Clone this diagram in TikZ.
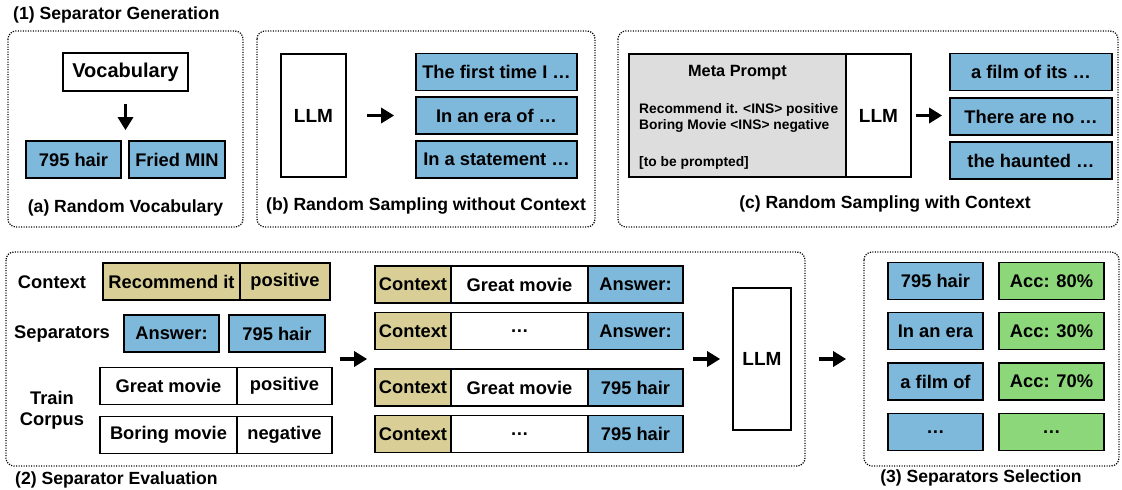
\documentclass[tikz,border=0pt]{standalone}
\usepackage{fontspec}
\setmainfont{Liberation Sans}
\usetikzlibrary{arrows.meta}
\definecolor{sepblue}{RGB}{126,184,219}
\definecolor{ctxtan}{RGB}{217,207,150}
\definecolor{accgreen}{RGB}{140,215,122}
\definecolor{metagray}{RGB}{221,221,221}
\begin{document}
\begin{tikzpicture}[x=1pt, y=-1pt,
  every node/.style={font=\fontsize{18.3}{21}\selectfont\bfseries},
  box/.style={draw, line width=1.7pt, inner sep=0pt, minimum height=37pt},
  sepbox/.style={box, fill=sepblue},
  ctxbox/.style={box, fill=ctxtan},
  accbox/.style={box, fill=accgreen},
  llmbox/.style={box, fill=white, font=\fontsize{19}{22}\selectfont\bfseries},
  panel/.style={draw, line width=1.2pt, dash pattern=on 1.2pt off 1.3pt, rounded corners=8pt},
  caption/.style={font=\fontsize{17.6}{20}\selectfont\bfseries},
  meta/.style={font=\fontsize{13.8}{16}\selectfont\bfseries, anchor=west, inner sep=0pt},
  arr/.style={-{Triangle[length=13pt,width=15pt]}, line width=3.4pt},
]
\useasboundingbox (0,0) rectangle (1122,490);
\node[caption, anchor=west, inner sep=0pt] (genT) at (13,15) {(1) Separator Generation};
% (a)
\draw[panel] (8,31) rectangle (243,227);
\node[box, minimum width=125pt, minimum height=38pt, font=\fontsize{20}{22}\selectfont\bfseries] (voc) at (125.5,72) {Vocabulary};
\node[sepbox, minimum width=95pt] (vocA) at (73.5,159.5) {795 hair};
\node[sepbox, minimum width=96pt] (vocB) at (177,159.5) {Fried MIN};
\draw[arr, shorten <=12pt, shorten >=10pt] (voc.south) -- (voc.south |- vocA.north);
\node[caption] (capA) at (125.5,208) {(a) Random Vocabulary};
% (b)
\draw[panel] (257,31) rectangle (595,227);
\node[llmbox, minimum width=65pt, minimum height=123pt] (llmb) at (313.5,115.5) {LLM};
\node[sepbox, minimum width=161pt] (smpb1) at (496.5,72) {The first time I …};
\node[sepbox, minimum width=161pt] (smpb2) at (496.5,115.5) {In an era of …};
\node[sepbox, minimum width=161pt] (smpb3) at (496.5,159.5) {In a statement …};
\draw[arr, shorten <=20pt, shorten >=21pt] (llmb) -- (smpb2);
\node[caption] (capB) at (426,206) {(b) Random Sampling without Context};
% (c)
\draw[panel] (618,31) rectangle (1118,227);
\node[box, fill=metagray, minimum width=217pt, minimum height=123pt] (mp) at (737.5,115.5) {};
\node[font=\fontsize{16.3}{18}\selectfont\bfseries] (mpT) at (737.5,73) {Meta Prompt};
\node[meta] (mpA) at (639,110) {Recommend it. <INS> positive};
\node[meta] (mpB) at (639,126) {Boring Movie <INS> negative};
\node[meta] (mpC) at (639,163) {[to be prompted]};
\node[llmbox, minimum width=65pt, minimum height=123pt] (llmc) at (878.5,115.5) {LLM};
\node[sepbox, minimum width=162pt] (smpc1) at (1031,72) {a film of its …};
\node[sepbox, minimum width=162pt] (smpc2) at (1031,116.5) {There are no …};
\node[sepbox, minimum width=162pt] (smpc3) at (1031,160.5) {the haunted …};
\draw[arr, shorten <=4pt, shorten >=7pt] (llmc) -- (llmc -| smpc2.west);
\node[caption] (capC) at (885,204) {(c) Random Sampling with Context};
% (2)
\draw[panel] (6,252) rectangle (805,466);
\node (ctxL) at (52,282) {Context};
\node (sepL) at (62,334) {Separators};
\node[align=center] (trL) at (52,410) {Train\\Corpus};
\node[ctxbox, minimum width=137pt] (ctxA) at (171.5,281.5) {Recommend it};
\node[ctxbox, minimum width=90pt] (ctxB) at (285,281.5) {positive};
\node[sepbox, minimum width=95pt] (sepA) at (171.5,333.5) {Answer:};
\node[sepbox, minimum width=96pt] (sepB) at (277,333.5) {795 hair};
\node[box, minimum width=137pt] (trA1) at (168.5,386) {Great movie};
\node[box, minimum width=95pt] (trA2) at (284.5,386) {positive};
\node[box, minimum width=137pt] (trB1) at (168.5,435) {Boring movie};
\node[box, minimum width=95pt] (trB2) at (284.5,435) {negative};
\node[ctxbox, minimum width=76pt] (rowA1) at (413,284.5) {Context};
\node[box, minimum width=137pt] (rowA2) at (519.5,284.5) {Great movie};
\node[sepbox, minimum width=95pt] (rowA3) at (635.5,284.5) {Answer:};
\node[ctxbox, minimum width=76pt] (rowB1) at (413,331) {Context};
\node[box, minimum width=137pt] (rowB2) at (519.5,331) {…};
\node[sepbox, minimum width=95pt] (rowB3) at (635.5,331) {Answer:};
\node[ctxbox, minimum width=76pt] (rowC1) at (413,387.5) {Context};
\node[box, minimum width=137pt] (rowC2) at (519.5,387.5) {Great movie};
\node[sepbox, minimum width=95pt] (rowC3) at (635.5,387.5) {795 hair};
\node[ctxbox, minimum width=76pt] (rowD1) at (413,434) {Context};
\node[box, minimum width=137pt] (rowD2) at (519.5,434) {…};
\node[sepbox, minimum width=95pt] (rowD3) at (635.5,434) {795 hair};
\node[llmbox, minimum width=58pt, minimum height=142pt] (llmd) at (762,359) {LLM};
\draw[arr] ([xshift=7pt]trA2.east |- llmd) -- ([xshift=-7pt]rowA1.west |- llmd);
\draw[arr, shorten <=9pt, shorten >=12pt] (rowA3.east |- llmd) -- (llmd);
\node[caption, anchor=west, inner sep=0pt] (capD) at (15,480) {(2) Separator Evaluation};
% (3)
\draw[panel] (864,252) rectangle (1119,466);
\node[sepbox, minimum width=95pt] (selA1) at (935.5,281) {795 hair};
\node[accbox, minimum width=105pt] (selA2) at (1051.5,281) {Acc: 80\%};
\node[sepbox, minimum width=95pt] (selB1) at (935.5,331) {In an era};
\node[accbox, minimum width=105pt] (selB2) at (1051.5,331) {Acc: 30\%};
\node[sepbox, minimum width=95pt] (selC1) at (935.5,381.5) {a film of};
\node[accbox, minimum width=105pt] (selC2) at (1051.5,381.5) {Acc: 70\%};
\node[sepbox, minimum width=95pt] (selD1) at (935.5,432) {…};
\node[accbox, minimum width=105pt] (selD2) at (1051.5,432) {…};
\draw[arr, shorten <=27pt, shorten >=41pt] (llmd) -- (llmd -| selA1.west);
\node[caption] (capE) at (981,478) {(3) Separators Selection};
\end{tikzpicture}
\end{document}
